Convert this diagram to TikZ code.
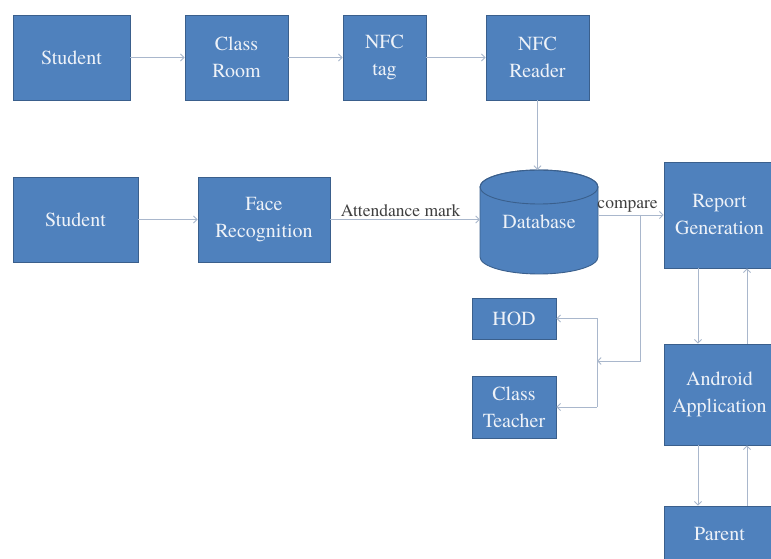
\documentclass[tikz,border=0pt]{standalone}
\usepackage{fontspec}
\setmainfont{TeX Gyre Termes}
\usetikzlibrary{arrows.meta}
\definecolor{boxblue}{HTML}{4F81BD}
\definecolor{boxedge}{HTML}{3A5F8C}
\definecolor{linec}{HTML}{A9B7CC}
\definecolor{labc}{HTML}{3F3F3F}
\definecolor{txtc}{HTML}{EEF2F8}
\begin{document}
\begin{tikzpicture}[x=1pt,y=1pt,
  box/.style={draw=boxedge, fill=boxblue, line width=0.9pt, text=txtc,
    font=\fontsize{20}{27}\selectfont, align=center, inner sep=0pt},
  conn/.style={draw=linec, line width=0.9pt, -{Straight Barb[length=3.5pt,width=7pt]}},
  plain/.style={draw=linec, line width=0.9pt},
  lab/.style={text=labc, font=\fontsize{17.5}{20}\selectfont, inner sep=2pt}]
\useasboundingbox (0,0) rectangle (771,559);
\clip (0,0) rectangle (771,559);
\fill[white] (0,0) rectangle (771,559);
% row 1
\node[box, minimum width=117, minimum height=85] (s1) at (71.5,501.5) {Student};
\node[box, minimum width=103, minimum height=85] (cr) at (236.5,501.5) {Class\\Room};
\node[box, minimum width=83, minimum height=85] (tag) at (384.5,501.5) {NFC\\tag};
\node[box, minimum width=103, minimum height=85] (rd) at (537.5,501.5) {NFC\\Reader};
% row 2
\node[box, minimum width=125, minimum height=85] (s2) at (75.5,339.5) {Student};
\node[box, minimum width=132, minimum height=85] (fr) at (264,339.5) {Face\\Recognition};
% database cylinder
\path[fill=boxblue, draw=boxedge, line width=0.9pt] (480,372) -- (480,302)
  arc[start angle=180, end angle=360, x radius=59, y radius=17] -- (598,372)
  arc[start angle=0, end angle=180, x radius=59, y radius=17] -- cycle;
\draw[boxedge, line width=0.9pt] (539,372) ellipse[x radius=59, y radius=17];
\node[minimum width=118, minimum height=104, inner sep=0pt, text=txtc,
  font=\fontsize{20}{27}\selectfont] (db) at (539,337) {Database};
% right column
\node[box, minimum width=111, minimum height=106] (rg) at (719.5,344) {Report\\Generation};
\node[box, minimum width=111, minimum height=101] (aa) at (719.5,164.5) {Android\\Application};
\node[box, minimum width=111, minimum height=56] (par) at (719.5,25) {Parent};
% left small boxes
\node[box, minimum width=84, minimum height=41] (hod) at (514,240.5) {HOD};
\node[box, minimum width=84, minimum height=62] (ct) at (514,152) {Class\\Teacher};
% connectors
\draw[conn] (s1) -- (cr);
\draw[conn] (cr) -- (tag);
\draw[conn] (tag) -- (rd);
\draw[conn] (rd.south) -- (rd.south |- db.north);
\draw[conn] (s2) -- (fr);
\draw[conn] (fr.east) -- node[lab, above, pos=0.47] {Attendance mark} (db.west |- fr.east);
\draw[conn] (db.east |- rg.west) -- node[lab, above, pos=0.45] {compare} (rg.west);
\coordinate (b1) at (640,344);
\coordinate (b2) at (640,198);
\coordinate (b3) at (597,198);
\coordinate (j1) at (597,240.5);
\coordinate (j2) at (597,152);
\draw[conn] (b1) -- (b2) -- (b3);
\draw[plain] (j1) -- (j2);
\draw[conn] (j1) -- (hod.east);
\draw[conn] (j2) -- (ct.east);
\draw[conn] ([xshift=-21.5pt]rg.south) -- ([xshift=-21.5pt]aa.north);
\draw[conn] ([xshift=27.5pt]aa.north) -- ([xshift=27.5pt]rg.south);
\draw[conn] ([xshift=-21.5pt]aa.south) -- ([xshift=-21.5pt]par.north);
\draw[conn] ([xshift=27.5pt]par.north) -- ([xshift=27.5pt]aa.south);
\end{tikzpicture}
\end{document}
